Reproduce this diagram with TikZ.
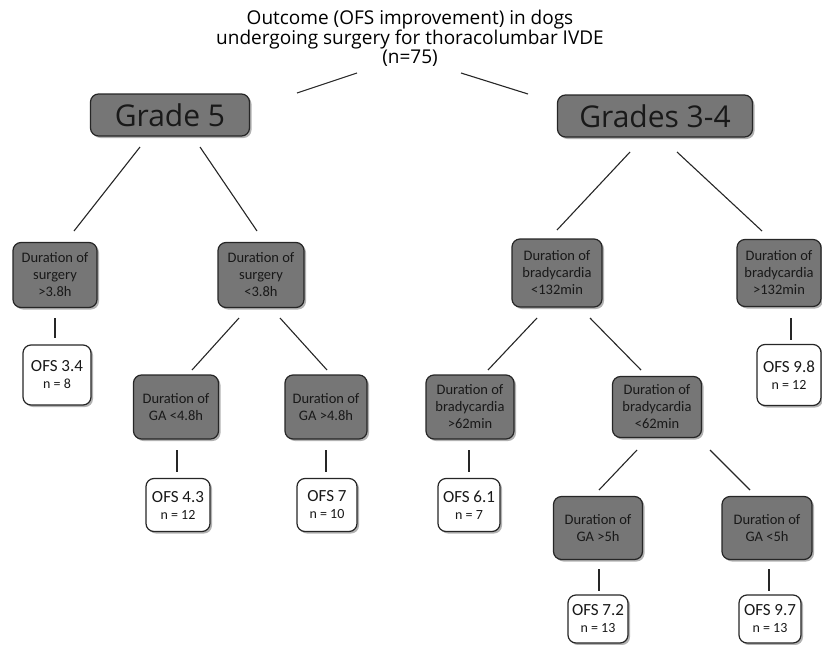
\documentclass[tikz,border=0pt]{standalone}
\usepackage{fontspec}
\setmainfont{Carlito}
\newfontfamily\headfont{Open Sans}
\usetikzlibrary{shadows}
\definecolor{boxgray}{RGB}{118,118,118}
\tikzset{
  cond/.style={draw=black!85, line width=1.2pt, rounded corners=8pt, fill=boxgray, text=black!90,
    align=center, inner sep=0pt, font=\fontsize{14.5}{17}\selectfont,
    drop shadow={shadow xshift=2pt, shadow yshift=-2pt, opacity=0.3, fill=black}},
  grade/.style={cond, font=\headfont\fontsize{30}{34}\selectfont},
  result/.style={cond, fill=white, font=\fontsize{17}{18}\selectfont},
  link/.style={line width=1.1pt, black!85}
}
\newcommand{\cnt}[1]{\\[-1pt]{\fontsize{14}{16}\selectfont n = #1}}
\begin{document}
\begin{tikzpicture}[x=1pt,y=-1pt]
  \useasboundingbox (0,0) rectangle (822,645);
  % heading
  \node[align=center, font=\headfont\fontsize{19}{19}\selectfont] (title) at (410,38)
    {Outcome (OFS improvement) in dogs\\undergoing surgery for thoracolumbar IVDE\\(n=75)};
  \node[grade, minimum width=159, minimum height=42] (g5) at (170,115) {Grade 5};
  \node[grade, minimum width=195, minimum height=42] (g34) at (655,116) {Grades 3-4};
  % grade 5 branch
  \node[cond, minimum width=84, minimum height=65] (surgA) at (55,275) {Duration of\\surgery\\>3.8h};
  \node[cond, minimum width=86, minimum height=65] (surgB) at (261,275) {Duration of\\surgery\\<3.8h};
  \node[result, minimum width=68, minimum height=60] (ofsA) at (57,375) {OFS 3.4\cnt{8}};
  \node[cond, minimum width=85, minimum height=64] (gaA) at (176,407) {Duration of\\GA <4.8h};
  \node[cond, minimum width=82, minimum height=64] (gaB) at (326,407) {Duration of\\GA >4.8h};
  \node[result, minimum width=64, minimum height=53] (ofsB) at (178,505) {OFS 4.3\cnt{12}};
  \node[result, minimum width=60, minimum height=53] (ofsC) at (327,505) {OFS 7\cnt{10}};
  % grades 3-4 branch
  \node[cond, minimum width=90, minimum height=68] (bradA) at (557,273) {Duration of\\bradycardia\\<132min};
  \node[cond, minimum width=84, minimum height=67] (bradB) at (779,273) {Duration of\\bradycardia\\>132min};
  \node[result, minimum width=64, minimum height=61] (ofsD) at (789,375) {OFS 9.8\cnt{12}};
  \node[cond, minimum width=88, minimum height=64] (bradC) at (470,407) {Duration of\\bradycardia\\>62min};
  \node[cond, minimum width=89, minimum height=61] (bradD) at (657,407) {Duration of\\bradycardia\\<62min};
  \node[result, minimum width=62, minimum height=53] (ofsE) at (469,505) {OFS 6.1\cnt{7}};
  \node[cond, minimum width=89, minimum height=63] (gaC) at (598,528) {Duration of\\GA >5h};
  \node[cond, minimum width=90, minimum height=63] (gaD) at (767,528) {Duration of\\GA <5h};
  \node[result, minimum width=60, minimum height=48] (ofsF) at (598,619) {OFS 7.2\cnt{13}};
  \node[result, minimum width=62, minimum height=48] (ofsG) at (770,619) {OFS 9.7\cnt{13}};
  % connectors
  \draw[link] ([shift={(-53,35)}]title.center) -- ([shift={(127,-22)}]g5.center);
  \draw[link] ([shift={(51,35)}]title.center) -- ([shift={(-127,-22)}]g34.center);
  \draw[link] ([shift={(-30,32)}]g5.center) -- ([shift={(19,-44)}]surgA.center);
  \draw[link] ([shift={(30,32)}]g5.center) -- ([shift={(-4,-44)}]surgB.center);
  \draw[link] ([shift={(-25,36)}]g34.center) -- ([shift={(0,-43)}]bradA.center);
  \draw[link] ([shift={(22,36)}]g34.center) -- ([shift={(-17,-42)}]bradB.center);
  \draw[link] ([shift={(0,43)}]surgA.center) -- ([shift={(-2,-37)}]ofsA.center);
  \draw[link] ([shift={(-22,43)}]surgB.center) -- ([shift={(16,-37)}]gaA.center);
  \draw[link] ([shift={(19,43)}]surgB.center) -- ([shift={(1,-37)}]gaB.center);
  \draw[link] ([shift={(-20,45)}]bradA.center) -- ([shift={(18,-37)}]bradC.center);
  \draw[link] ([shift={(33,45)}]bradA.center) -- ([shift={(-16,-37)}]bradD.center);
  \draw[link] ([shift={(12,45)}]bradB.center) -- ([shift={(2,-35)}]ofsD.center);
  \draw[link] ([shift={(1,43)}]gaA.center) -- ([shift={(-1,-33)}]ofsB.center);
  \draw[link] ([shift={(0,43)}]gaB.center) -- ([shift={(-1,-33)}]ofsC.center);
  \draw[link] ([shift={(-1,43)}]bradC.center) -- ([shift={(0,-33)}]ofsE.center);
  \draw[link] ([shift={(-20,43)}]bradD.center) -- ([shift={(1,-38)}]gaC.center);
  \draw[link] ([shift={(53,43)}]bradD.center) -- ([shift={(-17,-38)}]gaD.center);
  \draw[link] ([shift={(1,41)}]gaC.center) -- ([shift={(1,-28)}]ofsF.center);
  \draw[link] ([shift={(2,41)}]gaD.center) -- ([shift={(-1,-28)}]ofsG.center);
\end{tikzpicture}
\end{document}
